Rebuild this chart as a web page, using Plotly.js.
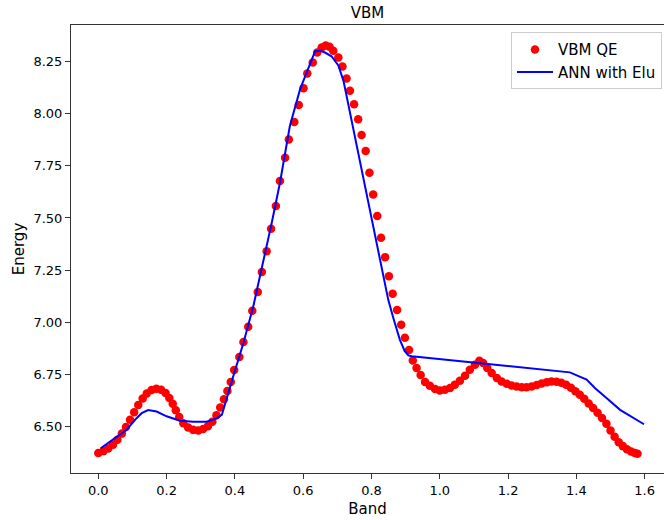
<!DOCTYPE html>
<html>
<head>
<meta charset="utf-8">
<script src="https://cdn.plot.ly/plotly-3.0.1.min.js"></script>
<style>html,body{margin:0;padding:0;background:#fff;}#chart{width:664px;height:520px;}</style>
</head>
<body>
<div id="chart"></div>
<script>
// VBM QE (red dots)
const qeBand = [0.000,0.015,0.029,0.043,0.056,0.069,0.081,0.093,0.105,0.117,0.130,0.142,0.156,0.170,0.184,0.197,0.208,0.218,0.227,0.237,0.249,0.263,0.278,0.293,0.307,0.321,0.334,0.346,0.357,0.368,0.378,0.388,0.398,0.413,0.425,0.439,0.451,0.467,0.479,0.493,0.506,0.520,0.532,0.547,0.558,0.574,0.587,0.601,0.612,0.628,0.641,0.654,0.666,0.677,0.688,0.703,0.715,0.727,0.737,0.749,0.761,0.771,0.783,0.794,0.805,0.817,0.828,0.840,0.851,0.862,0.875,0.887,0.898,0.910,0.921,0.932,0.944,0.957,0.971,0.986,1.000,1.015,1.030,1.044,1.059,1.074,1.088,1.103,1.116,1.127,1.139,1.152,1.167,1.181,1.196,1.210,1.225,1.240,1.254,1.269,1.284,1.298,1.313,1.327,1.342,1.356,1.370,1.384,1.397,1.410,1.423,1.436,1.449,1.462,1.475,1.488,1.500,1.512,1.524,1.536,1.548,1.560,1.571,1.579];
const qeEnergy = [6.372,6.381,6.394,6.412,6.436,6.465,6.497,6.532,6.567,6.602,6.634,6.658,6.674,6.680,6.675,6.660,6.636,6.608,6.577,6.545,6.515,6.494,6.483,6.480,6.487,6.500,6.522,6.553,6.590,6.630,6.670,6.713,6.770,6.833,6.905,6.978,7.055,7.145,7.241,7.340,7.448,7.557,7.677,7.789,7.877,7.961,8.042,8.123,8.193,8.246,8.294,8.318,8.328,8.322,8.302,8.270,8.227,8.169,8.110,8.046,7.974,7.898,7.821,7.717,7.613,7.509,7.405,7.312,7.220,7.136,7.058,6.988,6.925,6.866,6.816,6.780,6.746,6.713,6.695,6.679,6.672,6.675,6.684,6.700,6.719,6.743,6.772,6.796,6.815,6.804,6.780,6.756,6.732,6.715,6.704,6.696,6.691,6.688,6.688,6.691,6.698,6.706,6.712,6.715,6.714,6.709,6.699,6.685,6.668,6.652,6.632,6.610,6.588,6.565,6.540,6.512,6.480,6.450,6.424,6.405,6.390,6.379,6.372,6.368];
// ANN with Elu (blue line)
const annBand = [0.007,0.083,0.112,0.127,0.146,0.171,0.200,0.239,0.278,0.317,0.347,0.362,0.395,0.425,0.454,0.483,0.508,0.532,0.561,0.591,0.615,0.635,0.649,0.664,0.683,0.703,0.718,0.737,0.757,0.776,0.796,0.815,0.835,0.849,0.864,0.883,0.897,0.908,0.918,1.118,1.234,1.381,1.430,1.455,1.489,1.528,1.598];
const annEnergy = [6.395,6.483,6.539,6.563,6.578,6.571,6.548,6.527,6.522,6.522,6.538,6.556,6.739,6.900,7.076,7.285,7.477,7.669,7.941,8.118,8.214,8.300,8.302,8.294,8.276,8.232,8.158,8.006,7.845,7.685,7.525,7.381,7.220,7.108,7.020,6.916,6.862,6.840,6.836,6.803,6.785,6.759,6.724,6.683,6.635,6.579,6.510];
const xTicks = [0.0,0.2,0.4,0.6,0.8,1.0,1.2,1.4,1.6];
const yTicks = [6.50,6.75,7.00,7.25,7.50,7.75,8.00,8.25];

const font = "DejaVu Sans, sans-serif";
const traces = [
  {x: qeBand, y: qeEnergy, type: 'scatter', mode: 'markers', name: 'VBM QE',
   marker: {color: '#ff0000', size: 8.5}},
  {x: annBand, y: annEnergy, type: 'scatter', mode: 'lines', name: 'ANN with Elu',
   line: {color: '#0000ff', width: 2}}
];
const layout = {
  width: 664, height: 520,
  margin: {l: 71, r: 0, t: 25, b: 47},
  paper_bgcolor: '#fff', plot_bgcolor: '#fff',
  font: {family: font, color: '#000', size: 13},
  title: {text: 'VBM', font: {family: font, size: 15, color: '#000'}, xref: 'paper', x: 0.5, xanchor: 'center', yref: 'container', y: 0.976, yanchor: 'middle'},
  xaxis: {
    range: [-0.0799, 1.6566], tickmode: 'array', tickvals: xTicks, ticktext: xTicks.map(v => v.toFixed(1)),
    showgrid: false, zeroline: false, showline: true, mirror: true, linecolor: '#333', linewidth: 1,
    ticks: 'outside', ticklen: 5, tickcolor: '#333', tickfont: {family: font, size: 13, color: '#000'},
    title: {text: 'Band', font: {family: font, size: 15, color: '#000'}, standoff: 6}
  },
  yaxis: {
    range: [6.276, 8.426], tickmode: 'array', tickvals: yTicks, ticktext: yTicks.map(v => v.toFixed(2)),
    showgrid: false, zeroline: false, showline: true, mirror: false, linecolor: '#333', linewidth: 1,
    ticks: 'outside', ticklen: 5, tickcolor: '#333', tickfont: {family: font, size: 13, color: '#000'},
    title: {text: 'Energy', font: {family: font, size: 15, color: '#000'}, standoff: 5}
  },
  legend: {x: 0.9966, xanchor: 'right', y: 0.984, yanchor: 'top', bgcolor: 'rgba(255,255,255,0.8)',
    bordercolor: '#cccccc', borderwidth: 1, font: {family: font, size: 15, color: '#000'}, tracegroupgap: 0,
    itemwidth: 36},
  showlegend: true
};
Plotly.newPlot('chart', traces, layout, {displayModeBar: false, staticPlot: true});
</script>
</body>
</html>
